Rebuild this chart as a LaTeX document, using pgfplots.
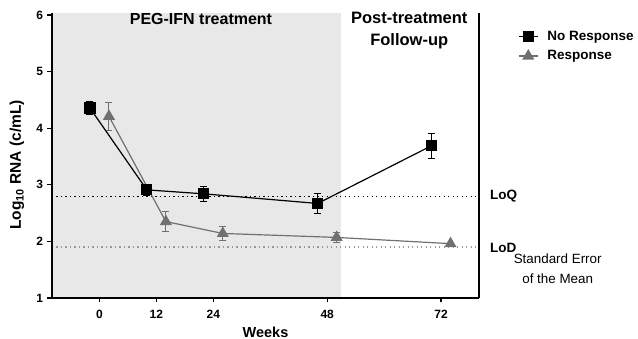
\documentclass[border=0pt]{standalone}
\usepackage{pgfplots}
\pgfplotsset{compat=1.18}
\usepackage{fontspec}
\setmainfont{Liberation Sans}
\definecolor{bg}{HTML}{E8E8E8}
\definecolor{rgray}{HTML}{707070}
\definecolor{dgray}{HTML}{999999}
\pgfplotsset{
  nores/.style={black, line width=1.2pt, mark=square*, mark size=5pt, mark options={solid, fill=black},
    error bars/.cd, y dir=both, y explicit,
    error bar style={line width=1pt, black},
    error mark options={rotate=90, mark size=3.5pt, line width=1pt, black}, /pgfplots/.cd},
  res/.style={rgray, line width=1.2pt, mark=triangle*, mark size=5.8pt, mark options={solid, fill=rgray, draw=rgray},
    error bars/.cd, y dir=both, y explicit,
    error bar style={line width=1pt, rgray},
    error mark options={rotate=90, mark size=3.5pt, line width=1pt, rgray}, /pgfplots/.cd},
}
\pgfplotstableread{
x y e
-2 4.355 0.11
10 2.91 0.10
22 2.84 0.13
46 2.67 0.17
70 3.69 0.22
}\nores
\pgfplotstableread{
x y e
2 4.21 0.25
14 2.35 0.17
26 2.14 0.12
50 2.07 0.09
74 1.96 0
}\res
\begin{document}
\begin{tikzpicture}
\useasboundingbox (-52pt,-41pt) rectangle (586pt,298pt);
\begin{axis}[
  scale only axis, width=427pt, height=285.3pt,
  xmin=-10, xmax=80, ymin=1, ymax=6.04,
  axis lines*=left, axis on top,
  axis line style={line width=1.3pt},
  xtick={0,12,24,48,72}, ytick={1,2,3,4,5,6},
  tick style={line width=1.1pt, black}, major tick length=4.5pt, tick align=outside,
  tick label style={font=\fontsize{12}{13}\selectfont\bfseries},
  xticklabel style={yshift=-4pt},
  yticklabel style={xshift=-1pt},
  /pgf/number format/assume math mode=true,
  xlabel={Weeks}, ylabel={Log\textsubscript{10} RNA (c/mL)},
  xlabel style={font=\fontsize{14.5}{16}\selectfont\bfseries, at={(axis description cs:0.5,-0.119)}, anchor=center},
  ylabel style={font=\fontsize{15.5}{17}\selectfont\bfseries, at={(axis description cs:-0.082,0.466)}, anchor=center},
  clip=false,
  legend style={at={(1,1)}, anchor=north west, xshift=39pt, yshift=-16.5pt, draw=none, fill=none, inner sep=0pt,
    font=\fontsize{13.5}{15}\selectfont\bfseries, row sep=4.5pt,
    /tikz/every odd column/.append style={column sep=7pt}},
  legend cell align=left,
  legend image code/.code={\draw[mark repeat=2, mark phase=2, #1] plot coordinates {(0pt,0pt) (9.5pt,0pt) (19pt,0pt)};},
]
\fill[bg] (axis cs:-10,1) rectangle (axis cs:51,6.04);
\draw[black, line width=1.2pt, dash pattern=on 1.2pt off 3.3pt] (axis cs:-10,2.8) -- (axis cs:80,2.8);
\draw[dgray, line width=1.2pt, dash pattern=on 1.2pt off 3.3pt] (axis cs:-10,1.9) -- (axis cs:80,1.9);
\draw[line width=1.3pt] (axis cs:80,1) -- (axis cs:80,6.04);
\addplot[forget plot, res] table[x=x, y=y, y error=e] {\res};
\addplot[nores] table[x=x, y=y, y error=e] {\nores};
\addlegendentry{No Response}
\addlegendimage{rgray, line width=1.2pt, mark=triangle*, mark size=5.8pt, mark options={solid, fill=rgray, draw=rgray}}
\addlegendentry{Response}
\node[anchor=north, font=\fontsize{16}{19}\selectfont\bfseries, inner sep=0] at (axis cs:21.4,6.035) {PEG-IFN treatment};
\node[anchor=north, align=center, font=\fontsize{16.5}{22}\selectfont\bfseries, inner sep=0] at (axis cs:65.3,6.05) {Post-treatment\\Follow-up};
\node[anchor=west, font=\fontsize{13.5}{15}\selectfont\bfseries, inner sep=0] at ([xshift=11pt]axis cs:80,2.8) {LoQ};
\node[anchor=west, font=\fontsize{13.5}{15}\selectfont\bfseries, inner sep=0] at ([xshift=11pt]axis cs:80,1.88) {LoD};
\node[align=center, font=\fontsize{13.4}{20}\selectfont, inner sep=0] at ([xshift=78.7pt]axis cs:80,1.51) {Standard Error\\of the Mean};
\end{axis}
\end{tikzpicture}
\end{document}
